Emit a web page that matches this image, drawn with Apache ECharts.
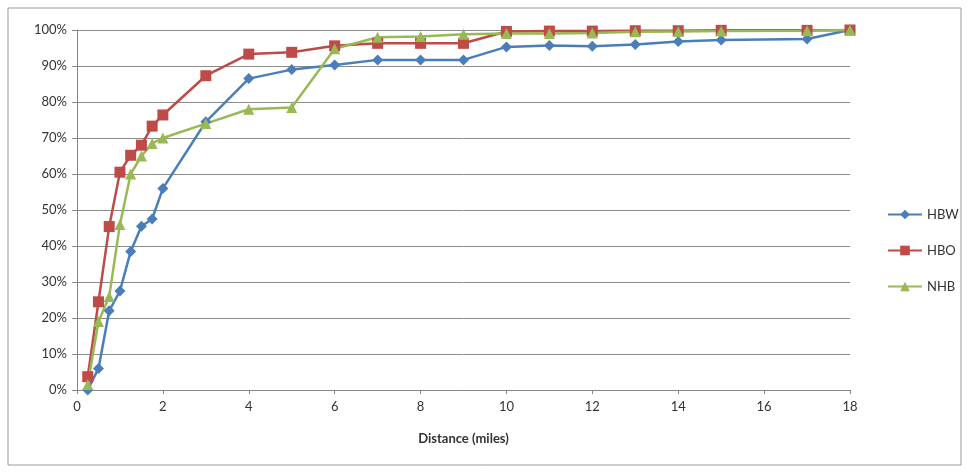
<!DOCTYPE html>
<html>
<head>
<meta charset="utf-8">
<script src="https://cdn.jsdelivr.net/npm/echarts@6/dist/echarts.min.js"></script>
<style>
  html, body { margin: 0; padding: 0; background: #fff; }
  #chart { width: 967px; height: 472px; }
</style>
</head>
<body>
<div id="chart"></div>
<script>
// distance (miles) of each point, shared by all three series
const distances = [0.25, 0.5, 0.75, 1, 1.25, 1.5, 1.75, 2, 3, 4, 5, 6, 7, 8, 9, 10, 11, 12, 13, 14, 15, 17, 18]
// cumulative share, in percent
const hbw = [0, 6, 22, 27.5, 38.5, 45.5, 47.5, 56, 74.5, 86.5, 89, 90.3, 91.7, 91.7, 91.7, 95.3, 95.7, 95.5, 96, 96.8, 97.2, 97.5, 100]
const hbo = [3.7, 24.5, 45.4, 60.5, 65.2, 68, 73.3, 76.4, 87.3, 93.3, 93.8, 95.6, 96.3, 96.3, 96.3, 99.6, 99.7, 99.7, 99.8, 99.8, 99.9, 99.9, 100]
const nhb = [1.5, 19, 26, 46, 60, 65, 68.5, 70, 74, 78, 78.5, 94.8, 98, 98.2, 98.8, 99, 99, 99.2, 99.5, 99.6, 99.7, 99.8, 100]
const xTicks = [0, 2, 4, 6, 8, 10, 12, 14, 16, 18]
const yTicks = [0, 10, 20, 30, 40, 50, 60, 70, 80, 90, 100]

const font = 'Lato, "Open Sans", sans-serif'
const pairs = (ys) => distances.map((d, i) => [d, ys[i]])

function lineSeries(name, ys, color, symbol, size) {
  return {
    name,
    type: 'line',
    data: pairs(ys),
    symbol,
    symbolSize: size,
    lineStyle: { color, width: 2.5 },
    itemStyle: { color },
    emphasis: { disabled: true },
  }
}

const chart = echarts.init(document.getElementById('chart'))
chart.setOption({
  animation: false,
  textStyle: { fontFamily: font },
  graphic: [{
    type: 'rect',
    shape: { x: 8, y: 8, width: 953, height: 457 },
    style: { fill: 'none', stroke: '#9a9a9a', lineWidth: 1 },
    silent: true,
  }],
  grid: { left: 77, right: 117, top: 30, bottom: 82 },
  legend: {
    orient: 'vertical',
    left: 882,
    top: 203,
    itemGap: 23,
    itemWidth: 34,
    itemHeight: 12,
    textStyle: { fontFamily: font, fontSize: 13, color: '#333' },
    data: ['HBW', 'HBO', 'NHB'],
  },
  xAxis: {
    type: 'value',
    min: xTicks[0],
    max: xTicks[xTicks.length - 1],
    interval: xTicks[1] - xTicks[0],
    name: 'Distance (miles)',
    nameLocation: 'middle',
    nameGap: 42,
    nameTextStyle: { fontFamily: font, fontSize: 13, fontWeight: 'bold', color: '#333' },
    axisLine: { lineStyle: { color: '#868686' } },
    axisTick: { show: true, length: 4, lineStyle: { color: '#868686' } },
    axisLabel: { fontSize: 13, color: '#333', margin: 10 },
    splitLine: { show: false },
  },
  yAxis: {
    type: 'value',
    min: yTicks[0],
    max: yTicks[yTicks.length - 1],
    interval: yTicks[1] - yTicks[0],
    axisLine: { show: true, lineStyle: { color: '#868686' } },
    axisTick: { show: true, length: 5, lineStyle: { color: '#868686' } },
    axisLabel: { fontSize: 13, color: '#333', formatter: '{value}%', margin: 10 },
    splitLine: { lineStyle: { color: '#8c8c8c', width: 1 } },
  },
  series: [
    lineSeries('HBW', hbw, '#4a7ebb', 'diamond', 11),
    lineSeries('HBO', hbo, '#be4b48', 'rect', 11),
    lineSeries('NHB', nhb, '#98b954', 'triangle', 11),
  ],
})
</script>
</body>
</html>
